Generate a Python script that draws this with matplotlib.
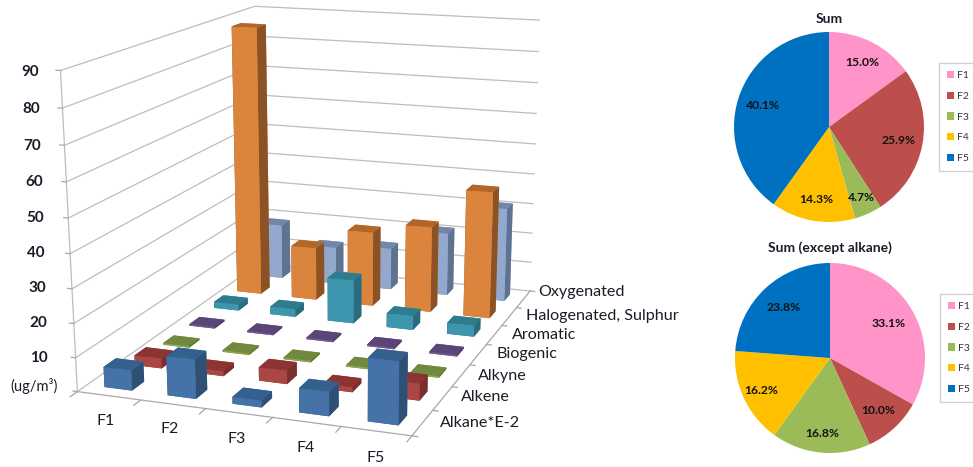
import numpy as np
import matplotlib
matplotlib.use("Agg")
import matplotlib.pyplot as plt
from matplotlib.patches import Patch
from mpl_toolkits.mplot3d import Axes3D  # noqa

plt.rcParams['font.family'] = ['Lato', 'DejaVu Sans']

# ---------- data ----------
fractions = ['F1', 'F2', 'F3', 'F4', 'F5']
series_names = ['Alkane*E-2', 'Alkene', 'Alkyne', 'Biogenic', 'Aromatic',
                'Halogenated, Sulphur', 'Oxygenated']
alkane = [6, 11.5, 2, 7, 18]
alkene = [3, 1.5, 4, 1.5, 5]
alkyne = [0.5, 0.5, 0.5, 0.5, 0.5]
biogenic = [0.5, 0.5, 0.5, 0.5, 0.5]
aromatic = [2, 2.5, 14, 4.5, 3.5]
halogenated = [88, 17.5, 24.5, 28, 41]
oxygenated = [18.5, 12.5, 14, 21, 31]
z_ticks = [10, 20, 30, 40, 50, 60, 70, 80, 90]
sum_pct = [15.0, 25.9, 4.7, 14.3, 40.1]
sum_ex_pct = [33.1, 10.0, 16.8, 16.2, 23.8]

# ---------- style / layout ----------
W, H = 973, 467
TXT = '#1c1c28'
GRID = '#bdbdbd'
face_cols = [  # front, side, top
    ('#4573A7', '#2F4F75', '#33608F'),
    ('#AA4643', '#7A2F2D', '#8C3431'),
    ('#89A54E', '#5F7336', '#71893F'),
    ('#71588F', '#4E3D64', '#5B4478'),
    ('#3D96AE', '#2A6C7E', '#2F7C8F'),
    ('#DB843D', '#8B5226', '#B3662A'),
    ('#92A8CD', '#5F7391', '#7286A8'),
]
pie_cols = ['#FF94C8', '#BC4F4C', '#9BBB59', '#FFC000', '#0070C0']

fig = plt.figure(figsize=(W / 100, H / 100), dpi=100, facecolor='white')
ax = fig.add_axes([0, 0, 1, 1], projection='3d', computed_zorder=False)
ax.set_axis_off()
ax.patch.set_visible(False)
nx, ny, zmax = len(fractions), len(series_names), z_ticks[-1]
ax.set_xlim(0, nx); ax.set_ylim(0, ny); ax.set_zlim(0, zmax)

# camera: fitted from where the box corners sit in the picture
anchors = [((0, 0, 0), (74, 391)), ((nx, 0, 0), (414, 436)),
           ((nx, ny, 0), (528, 291)), ((0, ny, 0), (262, 264)),
           ((0, 0, zmax), (62, 71)), ((nx, ny, zmax), (540, 20)),
           ((0, ny, zmax), (253, 6))]
vl = ax.viewLim
rows = []
for (X, Y, Z), (px, py) in anchors:
    u = vl.x0 + px / W * vl.width
    v = vl.y0 + (1 - py / H) * vl.height
    rows.append([X, Y, Z, 1, 0, 0, 0, 0, -u * X, -u * Y, -u * Z, -u])
    rows.append([0, 0, 0, 0, X, Y, Z, 1, -v * X, -v * Y, -v * Z, -v])
_, _, vt = np.linalg.svd(np.array(rows))
P = vt[-1].reshape(3, 4)
if P[2, 3] < 0:
    P = -P
depth = np.array([-0.02, 0.05, -0.002, -0.5]) * P[2, 3]
M = np.vstack([P[0], P[1], depth, P[2]])
ax.get_proj = lambda: M
ax.apply_aspect = lambda position=None: None

# walls
wall = dict(color=GRID, lw=0.9, zorder=1)
for z in [0] + z_ticks:
    ax.plot([0, 0, nx], [0, ny, ny], [z, z, z], **wall)
ax.plot([0, 0], [0, 0], [0, zmax], **wall)
ax.plot([0, nx, nx], [0, 0, ny], [0, 0, 0], color='#a8a8a8', lw=0.9, zorder=1)
for i in range(nx + 1):
    ax.plot([i, i], [0, -0.22], [0, 0], color='#a8a8a8', lw=0.9, zorder=1)
for j in range(ny + 1):
    ax.plot([nx, nx + 0.08], [j, j], [0, 0], color='#a8a8a8', lw=0.9, zorder=1)
for z in [0] + z_ticks:
    ax.plot([0, -0.07], [0, 0], [z, z], color='#a8a8a8', lw=0.9, zorder=1)

# bars
all_series = [alkane, alkene, alkyne, biogenic, aromatic, halogenated, oxygenated]
BW, BD = 0.44, 0.40
order = 2
for j in range(ny - 1, -1, -1):
    front, side, top = face_cols[j]
    for i in range(nx):
        ax.bar3d(i + (1 - BW) / 2, j + (1 - BD) / 2, 0, BW, BD, all_series[j][i],
                 color=[top, top, front, front, side, side], shade=False,
                 linewidths=0, zorder=order)
        order += 1

# text labels
def put(px, py, s, **kw):
    fig.text(px / W, 1 - py / H, s, color=TXT, va='center', **kw)

z_label_right = [48, 47, 46, 45, 44, 43, 41, 40, 39]
z_label_y = [358, 323, 288, 253, 218, 182, 146, 109, 72]
for z, xr, yy in zip(z_ticks, z_label_right, z_label_y):
    put(xr, yy, str(z), ha='right', fontsize=11, fontweight='bold')
put(10, 386, '(ug/m³)', ha='left', fontsize=10.5)
for name, (xx, yy) in zip(fractions, [(106, 421), (170, 429), (237, 439), (306, 448), (376, 458)]):
    put(xx, yy, name, ha='center', fontsize=11.5)
series_xy = [(440, 423), (461, 397), (478, 376), (496, 354), (512, 335), (526, 316), (538, 292)]
for name, (xx, yy) in zip(series_names, series_xy):
    put(xx, yy, name, ha='left', fontsize=11.6)

# pies
def draw_pie(values, title, cx, cy, title_y, radial, legend_xy):
    r = 95
    side = r * 2.5
    a = fig.add_axes([(cx - side / 2) / W, 1 - (cy + side / 2) / H, side / W, side / H])
    labels = iter(values)
    wedges, _, autos = a.pie(values, colors=pie_cols, startangle=90, counterclock=False,
                             autopct=lambda p: f'{next(labels):.1f}%', pctdistance=1.0,
                             wedgeprops=dict(linewidth=0),
                             textprops=dict(fontsize=8.7, fontweight='bold', color='#111111'))
    for t, f in zip(autos, radial):
        x, y = t.get_position()
        t.set_position((x * f, y * f))
    a.patch.set_visible(False)
    fig.text(cx / W, 1 - title_y / H, title, ha='center', va='center',
             fontsize=10, fontweight='bold', color=TXT)
    handles = [Patch(facecolor=c, edgecolor='none', label=n) for c, n in zip(pie_cols, fractions)]
    lx, ly = legend_xy
    leg = fig.legend(handles=handles, loc='upper left', bbox_to_anchor=(lx / W, 1 - ly / H),
                     bbox_transform=fig.transFigure, fontsize=7.5, labelspacing=1.1,
                     handlelength=0.7, handleheight=0.7, handletextpad=0.3,
                     borderpad=0.75, borderaxespad=0, frameon=True, fancybox=False,
                     edgecolor='#c4c4c4', labelcolor='#333333')
    leg.get_frame().set_linewidth(0.9)

draw_pie(sum_pct, 'Sum', 829, 127, 19, [0.76, 0.75, 0.82, 0.78, 0.73], (939, 63))
draw_pie(sum_ex_pct, 'Sum (except alkane)', 830, 358, 248, [0.72, 0.75, 0.80, 0.80, 0.72], (940, 294))

fig.savefig('out.png', dpi=100)
